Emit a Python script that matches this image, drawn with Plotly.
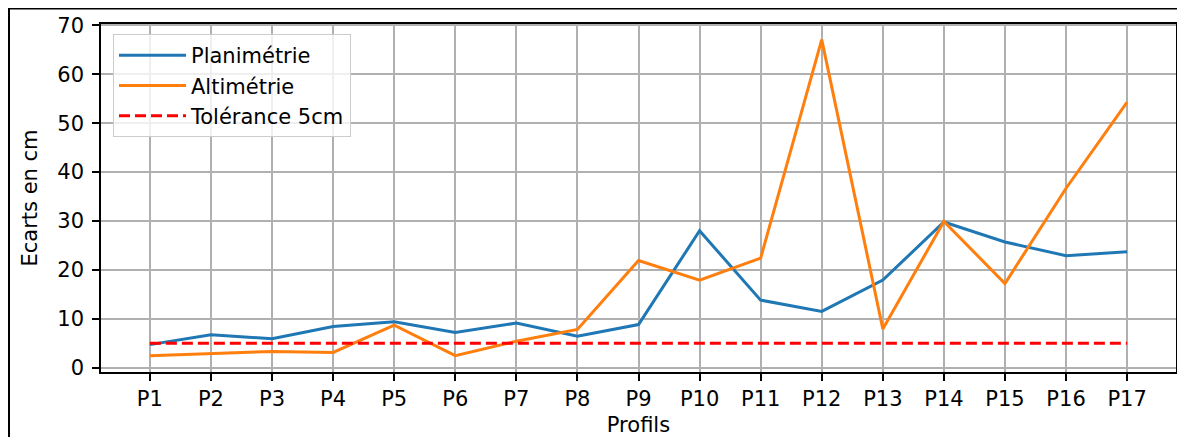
import plotly.graph_objects as go

profils = ["P1", "P2", "P3", "P4", "P5", "P6", "P7", "P8", "P9", "P10",
           "P11", "P12", "P13", "P14", "P15", "P16", "P17"]
planimetrie = [4.7, 6.7, 5.9, 8.4, 9.4, 7.2, 9.1, 6.4, 8.8, 28.0,
               13.8, 11.5, 17.9, 29.8, 25.7, 22.9, 23.7]
altimetrie = [2.45, 2.8, 3.3, 3.1, 8.7, 2.45, 5.4, 7.8, 21.9, 17.9,
              22.4, 67.1, 7.9, 29.9, 17.2, 36.7, 54.3]
tolerance = [5, 5, 5, 5, 5, 5, 5, 5, 5, 5, 5, 5, 5, 5, 5, 5, 5]

# the page body has an 8px margin, so the figure is placed at (8, 8)
OFF = 8
W, H = 1185 - 2 * OFF, 445 - 2 * OFF
L, T = 101 - OFF, 24 - OFF
R = W - (1176 - OFF)
B = H - (372 - OFF)
pw, ph = W - L - R, H - T - B
FONT = "DejaVu Sans"
FS = 21

fig = go.Figure()
fig.add_trace(go.Scatter(x=profils, y=planimetrie, mode="lines", name="Planimétrie",
                         line=dict(color="#1f77b4", width=3)))
fig.add_trace(go.Scatter(x=profils, y=altimetrie, mode="lines", name="Altimétrie",
                         line=dict(color="#ff7f0e", width=3)))
fig.add_trace(go.Scatter(x=profils, y=tolerance, mode="lines", name="Tolérance 5cm",
                         line=dict(color="#ff0000", width=3, dash="11px,5px")))

# outer frame around the figure (left and top edges visible)
fig.add_shape(type="rect", xref="paper", yref="paper",
              x0=(1 - L) / pw, x1=(W + 20 - L) / pw,
              y0=-(H + 20 - T - ph) / ph, y1=1 + (T - 0.5) / ph,
              line=dict(color="black", width=2), layer="above")

axis_common = dict(
    automargin=False,
    showline=True, linecolor="black", linewidth=1.5, mirror=True,
    ticks="outside", ticklen=7, tickwidth=1.5, tickcolor="black",
    showgrid=True, gridcolor="#b0b0b0", gridwidth=1.5,
    zeroline=False,
    tickfont=dict(family=FONT, size=FS, color="black"),
    title_font=dict(family=FONT, size=FS, color="black"),
)

fig.update_xaxes(type="category", range=[-0.8, 16.8],
                 title_text="Profils", title_standoff=9, **axis_common)
fig.update_yaxes(range=[-0.9, 70.3], tickmode="array",
                 tickvals=[0, 10, 20, 30, 40, 50, 60, 70],
                 ticklabelstandoff=4,
                 title_text="Ecarts en cm", title_standoff=14, **axis_common)

fig.update_layout(
    template="none",
    width=W, height=H,
    margin=dict(l=L, r=R, t=T, b=B, pad=0),
    paper_bgcolor="white", plot_bgcolor="white",
    font=dict(family=FONT, size=FS, color="black"),
    showlegend=True,
    legend=dict(x=(113 - OFF - L) / pw, y=1 - (34 - OFF - T) / ph,
                xanchor="left", yanchor="top",
                bgcolor="rgba(255,255,255,0.8)", bordercolor="#cccccc", borderwidth=1,
                font=dict(family=FONT, size=FS, color="black"),
                itemwidth=67, tracegroupgap=0),
)

fig.write_html("out.html")
